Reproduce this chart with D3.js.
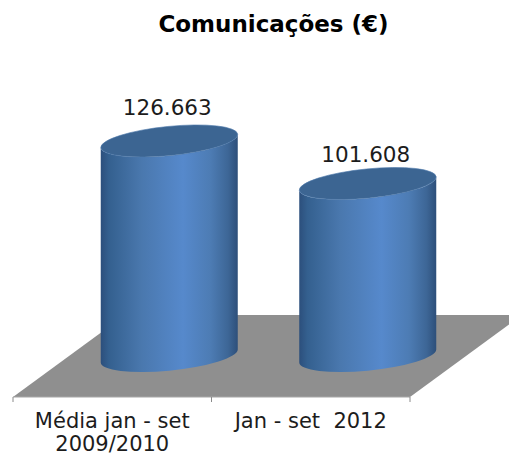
<!DOCTYPE html>
<html>
<head>
<meta charset="utf-8">
<script src="https://cdn.jsdelivr.net/npm/d3@7"></script>
<style>
html,body{margin:0;padding:0;background:#fff}
svg{display:block}
text{font-family:"DejaVu Sans",Verdana,sans-serif;fill:#1c1c1c}
</style>
</head>
<body>
<script>
// Chart content
const titleText = "Comunicações (€)";
const categories = ["Média jan - set", "Jan - set  2012"];
const categorySecondLines = ["2009/2010", ""];
const values = [126663, 101608];
const valueLabels = ["126.663", "101.608"];

const width = 509, height = 456;
const floorFront = 397, floorBack = 315, floorLeft = 13, floorRight = 410;
const depthX = 112;            // horizontal shift of the floor's back edge
const depthOffset = 57;        // cylinders stand mid-way into the floor
const baseY = 356;             // centre of the cylinder bases
const labelLift = [26, 22];    // gap between cap centre and value label baseline

// Tilted ellipse used for both cylinder caps
const capA = 68.8, capB = 14.6, capTilt = -5.67;
const capHalfW = 68.5, capSkew = 6.5;

const svg = d3.select("body").append("svg")
  .attr("width", width).attr("height", height);

const x = d3.scaleBand().domain(categories).range([floorLeft, floorRight]);
const y = d3.scaleLinear().domain([0, 126663]).range([baseY, 141]);

const defs = svg.append("defs");
const body = defs.append("linearGradient").attr("id", "cylBody");
[[0, "#2c4f7c"], [0.06, "#34608f"], [0.3, "#4a78ae"], [0.6, "#5689cc"],
 [0.8, "#4d7cb4"], [0.93, "#3d6696"], [1, "#2d4f7a"]].forEach(([o, c]) =>
  body.append("stop").attr("offset", o).attr("stop-color", c));

// Floor of the 3D plot
svg.append("path")
  .attr("d", d3.line()([
    [floorLeft, floorFront], [floorRight, floorFront],
    [floorRight + depthX, floorBack], [floorLeft + depthX, floorBack]
  ]) + "Z")
  .attr("fill", "#8f8f8f");

// Category axis with its three ticks
const axisY = floorFront;
const ticks = [floorLeft, floorLeft + x.bandwidth(), floorRight];
svg.append("line")
  .attr("x1", floorLeft).attr("x2", floorRight)
  .attr("y1", axisY).attr("y2", axisY)
  .attr("stroke", "#a6a6a6").attr("stroke-width", 1);
svg.selectAll("line.tick").data(ticks).join("line")
  .attr("class", "tick")
  .attr("x1", d => d).attr("x2", d => d)
  .attr("y1", axisY).attr("y2", axisY + 5)
  .attr("stroke", "#8a8a8a").attr("stroke-width", 1);

// Cylinders
const cylinders = svg.selectAll("g.cyl").data(values).join("g").attr("class", "cyl");
const cx = (d, i) => x(categories[i]) + x.bandwidth() / 2 + depthOffset;

cylinders.append("path")
  .attr("fill", "url(#cylBody)")
  .attr("d", (d, i) => {
    const c = cx(d, i), t = y(d);
    const l = c - capHalfW, r = c + capHalfW;
    const arc = (ex, ey, sweep) => `A${capA} ${capB} ${capTilt} 0 ${sweep} ${ex} ${ey}`;
    return `M${l} ${t + capSkew}L${l} ${baseY + capSkew}` +
      arc(r, baseY - capSkew, 0) +
      `L${r} ${t - capSkew}` +
      arc(l, t + capSkew, 1) + "Z";
  });

cylinders.append("ellipse")
  .attr("rx", capA).attr("ry", capB)
  .attr("transform", (d, i) => `translate(${cx(d, i)},${y(d)}) rotate(${capTilt})`)
  .attr("fill", "#3c6592")
  .attr("stroke", "#4f7aab").attr("stroke-width", 0.6);

// Value labels above each cylinder
svg.selectAll("text.value").data(values).join("text")
  .attr("class", "value")
  .attr("x", (d, i) => cx(d, i) - 2)
  .attr("y", (d, i) => y(d) - labelLift[i])
  .attr("text-anchor", "middle")
  .attr("font-size", 21.5)
  .text((d, i) => valueLabels[i]);

// Category labels, optionally on two lines
svg.selectAll("text.cat").data(categories).join("text")
  .attr("class", "cat")
  .attr("text-anchor", "middle")
  .attr("font-size", 21)
  .attr("y", 428)
  .each(function (d, i) {
    const mid = x(d) + x.bandwidth() / 2;
    const t = d3.select(this);
    t.append("tspan").attr("x", mid).text(d).style("white-space", "pre");
    if (categorySecondLines[i]) {
      t.append("tspan").attr("x", mid).attr("dy", 23).text(categorySecondLines[i]);
    }
  });

// Title
svg.append("text")
  .attr("x", 273.5).attr("y", 32)
  .attr("text-anchor", "middle")
  .attr("font-size", 23).attr("font-weight", "bold")
  .style("fill", "#000")
  .text(titleText);
</script>
</body>
</html>
